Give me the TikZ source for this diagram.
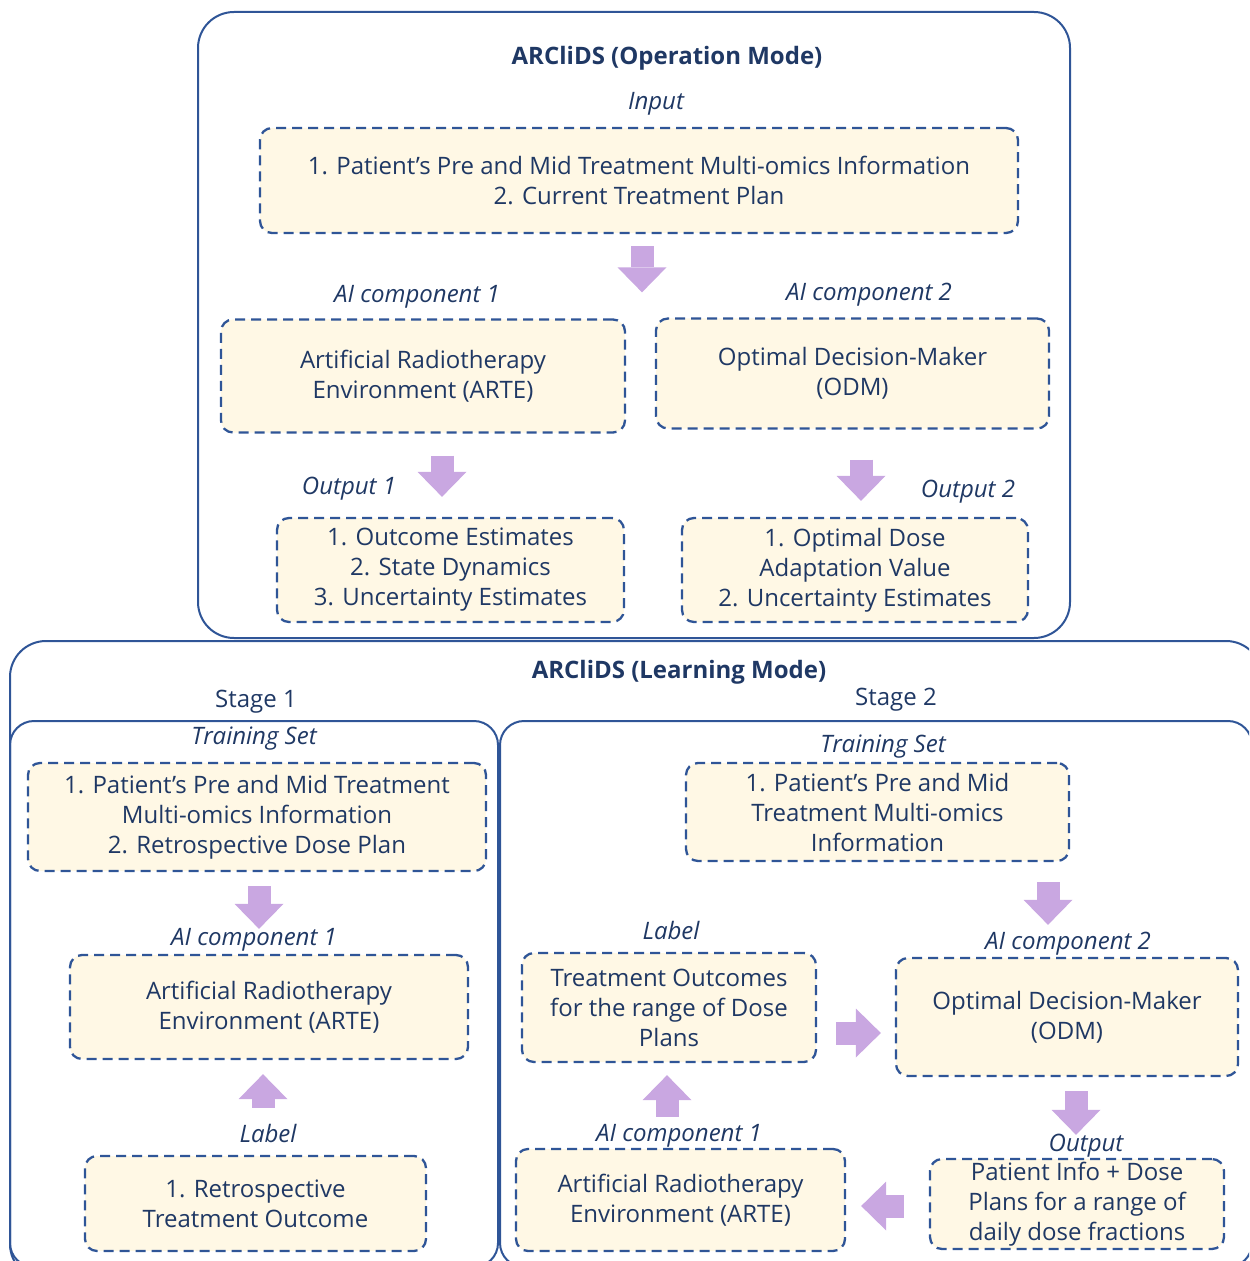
\documentclass[tikz,border=0pt]{standalone}
\usepackage{fontspec}
\setmainfont{Open Sans}
\usetikzlibrary{arrows.meta, positioning}
\definecolor{mNavy}{HTML}{1F3864}
\definecolor{mFrame}{HTML}{2F5597}
\definecolor{mCream}{HTML}{FFF8E5}
\definecolor{mLilac}{HTML}{C9A7E1}
\begin{document}
\begin{tikzpicture}[x=0.5pt, y=-0.5pt,
    every node/.style={text=mNavy, font=\fontsize{12}{15}\selectfont},
    frame/.style={draw=mFrame, line width=1pt, rounded corners=18pt},
    box/.style={draw=mFrame, line width=1.15pt, dash pattern=on 5pt off 3pt, rounded corners=6pt, fill=mCream, align=center, inner sep=0pt},
    tag/.style={font=\fontsize{12}{15}\selectfont\itshape},
    head/.style={font=\fontsize{12}{15}\selectfont\bfseries},
    fat/.style={draw=mLilac, line width=11.5pt, -{Triangle[length=12.5pt, width=24.5pt, line width=0pt]}}]
  \useasboundingbox (0,0) rectangle (1249,1261);
  \clip (0,0) rectangle (1249,1261);
  % frames
  \draw[frame] (198,12) rectangle (1070,638);
  \draw[frame] (10,641) rectangle (1262,1280);
  \draw[frame, rounded corners=12pt] (10,721) rectangle (498,1267);
  \draw[frame, rounded corners=12pt] (500,721) rectangle (1252,1267);
  % operation mode
  \node[head] (optitle) at (667,58) {ARCliDS (Operation Mode)};
  \node[tag] (intag) at (656,104) {Input};
  \node[box, minimum width=379pt, minimum height=52.5pt] (inop) at (639,180.5) {1. Patient’s Pre and Mid Treatment Multi-omics Information\\2. Current Treatment Plan};
  \node[tag] (ai1tag) at (417,297) {AI component 1};
  \node[tag] (ai2tag) at (869,295) {AI component 2};
  \node[box, minimum width=202pt, minimum height=56.5pt] (arteop) at (423,376) {Artificial Radiotherapy\\Environment (ARTE)};
  \node[box, minimum width=196.5pt, minimum height=55pt] (odmop) at (852.5,373.5) {Optimal Decision-Maker\\(ODM)};
  \node[tag] (out1tag) at (349,489) {Output 1};
  \node[tag] (out2tag) at (968,492) {Output 2};
  \node[box, minimum width=173.5pt, minimum height=52pt] (outa) at (450.5,570) {1. Outcome Estimates\\2. State Dynamics\\3. Uncertainty Estimates};
  \node[box, minimum width=173pt, minimum height=52pt] (outb) at (855,570) {1. Optimal Dose\\Adaptation Value\\2. Uncertainty Estimates};
  % learning mode
  \node[head] (lmtitle) at (679,672) {ARCliDS (Learning Mode)};
  \node (st1) at (256,702) {Stage 1};
  \node (st2) at (896,700) {Stage 2};
  % stage 1
  \node[tag] (trtagA) at (254,739) {Training Set};
  \node[box, minimum width=229pt, minimum height=54pt] (trainA) at (257,817) {1. Patient’s Pre and Mid Treatment\\Multi-omics Information\\2. Retrospective Dose Plan};
  \node[tag] (ai1tagA) at (254,940) {AI component 1};
  \node[box, minimum width=199pt, minimum height=52pt] (arteA) at (269,1007) {Artificial Radiotherapy\\Environment (ARTE)};
  \node[tag] (labtagA) at (268,1133) {Label};
  \node[box, minimum width=170.5pt, minimum height=47.5pt] (retro) at (255.5,1203.5) {1. Retrospective\\Treatment Outcome};
  % stage 2
  \node[tag] (trtagB) at (883,747) {Training Set};
  \node[box, minimum width=191.5pt, minimum height=49pt] (trainB) at (877.5,812) {1. Patient’s Pre and Mid\\Treatment Multi-omics\\Information};
  \node[tag] (labtagB) at (671,930) {Label};
  \node[box, minimum width=147pt, minimum height=54.5pt] (outc) at (669,1007.5) {Treatment Outcomes\\for the range of Dose\\Plans};
  \node[tag] (ai2tagB) at (1068,944) {AI component 2};
  \node[box, minimum width=171pt, minimum height=59pt] (odmB) at (1067,1017) {Optimal Decision-Maker\\(ODM)};
  \node[tag] (ai1tagB) at (679,1136) {AI component 1};
  \node[box, minimum width=164.5pt, minimum height=51pt] (arteB) at (680.5,1200) {Artificial Radiotherapy\\Environment (ARTE)};
  \node[tag] (outtagB) at (1086,1146) {Output};
  \node[box, minimum width=147pt, minimum height=45pt] (infoB) at (1077,1204) {Patient Info + Dose\\Plans for a range of\\daily dose fractions};
  % block arrows
  \coordinate (ca) at (642,0);
  \coordinate (cb) at (442,0);
  \coordinate (cc) at (861,0);
  \coordinate (cd) at (259,0);
  \coordinate (ce) at (263,0);
  \coordinate (cf) at (1048,0);
  \coordinate (cg) at (0,1033);
  \coordinate (ch) at (667,0);
  \coordinate (ci) at (1076,0);
  \coordinate (cj) at (0,1206);
  \draw[fat, shorten <=6pt, shorten >=13pt] (inop.south -| ca) -- (arteop.north -| ca);
  \draw[fat, shorten <=11pt, shorten >=10pt] (arteop.south -| cb) -- (outa.north -| cb);
  \draw[fat, shorten <=15pt, shorten >=8pt] (odmop.south -| cc) -- (outb.north -| cc);
  \draw[fat, shorten <=7pt, shorten >=12.5pt] (trainA.south -| cd) -- (arteA.north -| cd);
  \draw[fat, shorten <=23.5pt, shorten >=7pt] (retro.north -| ce) -- (arteA.south -| ce);
  \draw[fat, shorten <=10pt, shorten >=16pt] (trainB.south -| cf) -- (odmB.north -| cf);
  \draw[fat, shorten <=9.5pt, shorten >=7pt] (outc.east |- cg) -- (odmB.west |- cg);
  \draw[fat, shorten <=15.5pt, shorten >=6pt] (arteB.north -| ch) -- (outc.south -| ch);
  \draw[fat, shorten <=7pt, shorten >=11.5pt] (odmB.south -| ci) -- (infoB.north -| ci);
  \draw[fat, shorten <=12.5pt, shorten >=7.5pt] (infoB.west |- cj) -- (arteB.east |- cj);
\end{tikzpicture}
\end{document}
